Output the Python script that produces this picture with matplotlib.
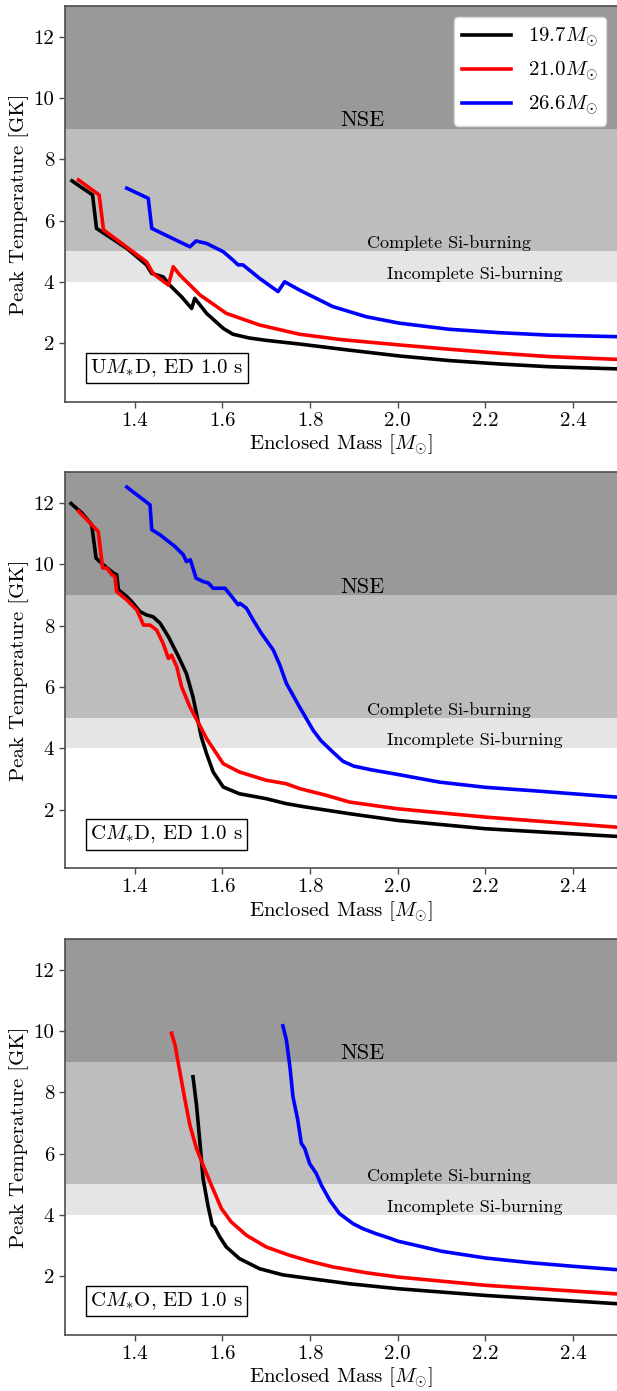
import matplotlib
matplotlib.use("Agg")
import matplotlib.pyplot as plt

plt.rcParams['font.family'] = 'serif'
plt.rcParams['font.serif'] = ['cmr10']
plt.rcParams['mathtext.fontset'] = 'cm'
plt.rcParams['axes.unicode_minus'] = False
plt.rcParams['axes.formatter.use_mathtext'] = True

labels = [r'$19.7M_{\odot}$', r'$21.0M_{\odot}$', r'$26.6M_{\odot}$']
colors = ['black', 'red', 'blue']
panel_titles = [r'U$M_{*}$D, ED 1.0 s', r'C$M_{*}$D, ED 1.0 s', r'C$M_{*}$O, ED 1.0 s']

# Panel 1: UM*D
u197_m = [1.257, 1.304, 1.313, 1.382, 1.427, 1.439, 1.465, 1.48, 1.507, 1.53, 1.537, 1.564, 1.602, 1.624, 1.66, 1.70, 1.776, 1.89, 2.004, 2.118, 2.232, 2.345, 2.50]
u197_t = [7.30, 6.84, 5.75, 5.10, 4.56, 4.28, 4.17, 3.90, 3.52, 3.14, 3.47, 2.98, 2.49, 2.30, 2.18, 2.10, 1.98, 1.78, 1.59, 1.44, 1.33, 1.24, 1.17]
u210_m = [1.272, 1.319, 1.329, 1.427, 1.442, 1.477, 1.488, 1.503, 1.549, 1.609, 1.685, 1.776, 1.867, 2.004, 2.118, 2.232, 2.345, 2.50]
u210_t = [7.33, 6.84, 5.70, 4.66, 4.28, 3.90, 4.50, 4.23, 3.58, 2.98, 2.60, 2.30, 2.13, 1.95, 1.81, 1.68, 1.57, 1.48]
u266_m = [1.382, 1.431, 1.439, 1.526, 1.54, 1.564, 1.602, 1.624, 1.636, 1.647, 1.685, 1.727, 1.742, 1.776, 1.852, 1.928, 2.004, 2.118, 2.232, 2.345, 2.50]
u266_t = [7.06, 6.73, 5.75, 5.15, 5.34, 5.26, 4.99, 4.72, 4.56, 4.56, 4.12, 3.69, 4.01, 3.74, 3.20, 2.87, 2.66, 2.46, 2.35, 2.27, 2.22]

# Panel 2: CM*D
cd197_m = [1.255, 1.28, 1.302, 1.312, 1.329, 1.352, 1.359, 1.363, 1.382, 1.393, 1.412, 1.427, 1.442, 1.458, 1.477, 1.50, 1.518, 1.533, 1.552, 1.564, 1.579, 1.602, 1.639, 1.70, 1.745, 1.785, 1.89, 2.0, 2.2, 2.5]
cd197_t = [11.98, 11.67, 11.29, 10.2, 9.98, 9.71, 9.66, 9.17, 8.95, 8.79, 8.46, 8.35, 8.29, 8.08, 7.64, 6.99, 6.44, 5.68, 4.37, 3.83, 3.23, 2.74, 2.52, 2.36, 2.20, 2.10, 1.87, 1.65, 1.38, 1.13]
cd210_m = [1.272, 1.317, 1.327, 1.336, 1.348, 1.355, 1.359, 1.382, 1.405, 1.412, 1.42, 1.435, 1.45, 1.465, 1.477, 1.484, 1.496, 1.507, 1.526, 1.548, 1.564, 1.602, 1.639, 1.70, 1.745, 1.776, 1.806, 1.837, 1.89, 2.0, 2.2, 2.5]
cd210_t = [11.73, 11.07, 9.88, 9.88, 9.66, 9.6, 9.11, 8.84, 8.51, 8.29, 8.02, 8.02, 7.86, 7.42, 6.93, 7.04, 6.66, 6.01, 5.35, 4.76, 4.32, 3.50, 3.23, 2.96, 2.85, 2.69, 2.58, 2.47, 2.25, 2.03, 1.76, 1.43]
cd266_m = [1.382, 1.435, 1.439, 1.458, 1.492, 1.511, 1.518, 1.527, 1.54, 1.556, 1.568, 1.579, 1.606, 1.624, 1.636, 1.64, 1.655, 1.67, 1.689, 1.716, 1.731, 1.746, 1.776, 1.807, 1.825, 1.852, 1.875, 1.90, 1.94, 2.0, 2.095, 2.2, 2.308, 2.5]
cd266_t = [12.52, 11.94, 11.13, 10.96, 10.58, 10.31, 10.09, 10.15, 9.55, 9.44, 9.39, 9.22, 9.22, 8.90, 8.68, 8.73, 8.57, 8.19, 7.75, 7.21, 6.72, 6.12, 5.35, 4.59, 4.25, 3.88, 3.58, 3.42, 3.30, 3.15, 2.90, 2.73, 2.62, 2.41]

# Panel 3: CM*O
co197_m = [1.533, 1.541, 1.548, 1.556, 1.567, 1.577, 1.582, 1.594, 1.609, 1.639, 1.685, 1.738, 1.80, 1.89, 2.0, 2.2, 2.5]
co197_t = [8.51, 7.59, 6.50, 5.19, 4.32, 3.67, 3.61, 3.29, 2.96, 2.58, 2.25, 2.05, 1.93, 1.76, 1.60, 1.38, 1.11]
co210_m = [1.484, 1.492, 1.503, 1.514, 1.526, 1.541, 1.556, 1.575, 1.598, 1.62, 1.655, 1.70, 1.753, 1.798, 1.852, 1.928, 2.0, 2.2, 2.5]
co210_t = [9.93, 9.55, 8.68, 7.81, 6.93, 6.17, 5.63, 4.97, 4.21, 3.78, 3.34, 2.96, 2.69, 2.50, 2.31, 2.12, 1.98, 1.71, 1.43]
co266_m = [1.738, 1.746, 1.754, 1.761, 1.772, 1.78, 1.788, 1.799, 1.814, 1.826, 1.845, 1.867, 1.898, 1.92, 1.951, 1.981, 2.0, 2.1, 2.2, 2.3, 2.4, 2.5]
co266_t = [10.17, 9.71, 8.84, 7.86, 7.10, 6.34, 6.17, 5.68, 5.36, 4.97, 4.48, 4.05, 3.72, 3.56, 3.39, 3.25, 3.15, 2.82, 2.60, 2.45, 2.33, 2.22]

panels = [
    [(u197_m, u197_t), (u210_m, u210_t), (u266_m, u266_t)],
    [(cd197_m, cd197_t), (cd210_m, cd210_t), (cd266_m, cd266_t)],
    [(co197_m, co197_t), (co210_m, co210_t), (co266_m, co266_t)],
]

xticks = [1.4, 1.6, 1.8, 2.0, 2.2, 2.4]
yticks = [2, 4, 6, 8, 10, 12]

W, H = 617, 1391
fig = plt.figure(figsize=(W / 100, H / 100), dpi=100)

tops = [6, 472.3, 939]
ax_h = 395.7
left_px = 64.5

for i, (series, title) in enumerate(zip(panels, panel_titles)):
    bottom = 1 - (tops[i] + ax_h) / H
    ax = fig.add_axes([left_px / W, bottom, (W - left_px) / W, ax_h / H])
    ax.axhspan(9, 13, color='black', alpha=0.4, lw=0)
    ax.axhspan(5, 9, color='black', alpha=0.26, lw=0)
    ax.axhspan(4, 5, color='black', alpha=0.1, lw=0)
    for (m, t), c, lab in zip(series, colors, labels):
        ax.plot(m, t, color=c, lw=2.6, label=lab)
    ax.text(1.87, 9.08, 'NSE', fontsize=16, va='baseline', ha='left')
    ax.text(1.93, 5.1, 'Complete Si-burning', fontsize=13, va='baseline', ha='left')
    ax.text(1.975, 4.1, 'Incomplete Si-burning', fontsize=13, va='baseline', ha='left')
    ax.text(0.0465, 0.057, title, transform=ax.transAxes, fontsize=15,
            ha='left', va='bottom',
            bbox=dict(boxstyle='square,pad=0.2', fc='white', ec='black', lw=1))
    ax.set_xlim(1.24, 2.5)
    ax.set_ylim(0.1, 13)
    ax.set_xticks(xticks)
    ax.set_yticks(yticks)
    ax.set_xticklabels(['1.4', '1.6', '1.8', '2.0', '2.2', '2.4'])
    ax.set_yticklabels(['2', '4', '6', '8', '10', '12'])
    ax.tick_params(labelsize=15, direction='out', length=4, width=1, color='0.3')
    ax.spines['right'].set_visible(False)
    for s in ['left', 'bottom', 'top']:
        ax.spines[s].set_color('0.3')
        ax.spines[s].set_linewidth(1.2)
    ax.set_xlabel(r'Enclosed Mass [$M_{\odot}$]', fontsize=15, labelpad=2)
    ax.set_ylabel('Peak Temperature [GK]', fontsize=15, labelpad=3)
    if i == 0:
        leg = ax.legend(loc='upper right', bbox_to_anchor=(0.980, 0.9714), fontsize=15,
                        framealpha=1, handlelength=2.35, borderaxespad=0)
        leg.get_frame().set_edgecolor('0.85')

fig.savefig('out.png', dpi=100)
